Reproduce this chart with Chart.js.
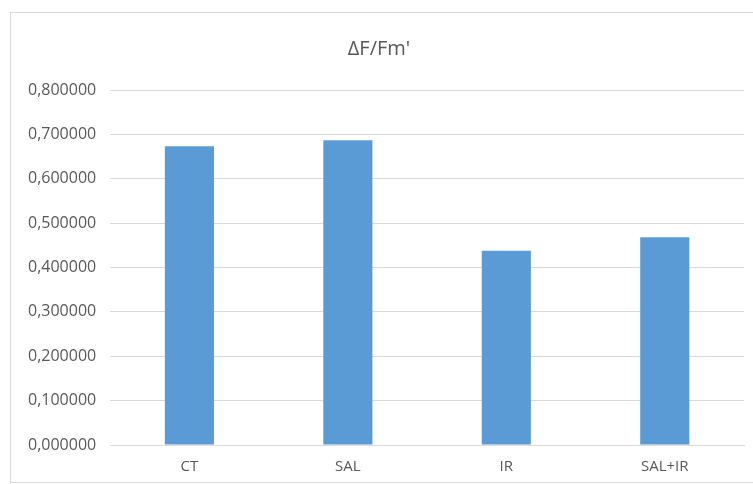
<!DOCTYPE html>
<html>
<head>
<meta charset="utf-8">
<script src="https://cdn.jsdelivr.net/npm/chart.js@4.4.1/dist/chart.umd.min.js"></script>
<style>
  html, body { margin: 0; padding: 0; background: #ffffff; }
  #wrap { position: relative; width: 753px; height: 484px; overflow: hidden; }
  #frame { position: absolute; left: 10px; top: 12px; width: 760px; height: 469px;
           border-left: 1px solid #d9d9d9; border-top: 1px solid #d9d9d9; border-bottom: 1px solid #d9d9d9; }
  canvas { position: absolute; left: 0; top: 0; }
</style>
</head>
<body>
<div id="wrap">
  <div id="frame"></div>
  <canvas id="c" width="753" height="484"></canvas>
</div>
<script>
// Treatments and their ΔF/Fm' values
const categories = ['CT', 'SAL', 'IR', 'SAL+IR'];
const values = [0.673, 0.687, 0.438, 0.468];
// Y axis range and step
const yMin = 0;
const yMax = 0.8;
const yStep = 0.1;

const grey = '#595959';
const fontFamily = '"Open Sans", "Liberation Sans", sans-serif';

new Chart(document.getElementById('c'), {
  type: 'bar',
  data: {
    labels: categories,
    datasets: [{
      data: values,
      backgroundColor: '#5b9bd5',
      borderWidth: 0,
      categoryPercentage: 1.0,
      barPercentage: 0.31
    }]
  },
  options: {
    responsive: false,
    animation: false,
    layout: { padding: { left: 14, right: 9, top: 12, bottom: -5 } },
    plugins: {
      legend: { display: false },
      tooltip: { enabled: false },
      title: {
        display: true,
        text: "ΔF/Fm'",
        color: grey,
        font: { family: fontFamily, size: 20, weight: 'normal' },
        padding: { top: 25, bottom: 29 }
      }
    },
    scales: {
      x: {
        grid: { display: false, drawTicks: false },
        border: { display: true, color: '#d9d9d9' },
        ticks: {
          color: grey,
          padding: 13,
          font: { family: fontFamily, size: 15 }
        }
      },
      y: {
        min: yMin,
        max: yMax,
        grid: { color: '#d9d9d9', drawTicks: false },
        border: { display: false },
        ticks: {
          stepSize: yStep,
          color: grey,
          padding: 14,
          font: { family: fontFamily, size: 16 },
          callback: v => v.toFixed(6).replace('.', ',')
        }
      }
    }
  }
});
</script>
</body>
</html>
